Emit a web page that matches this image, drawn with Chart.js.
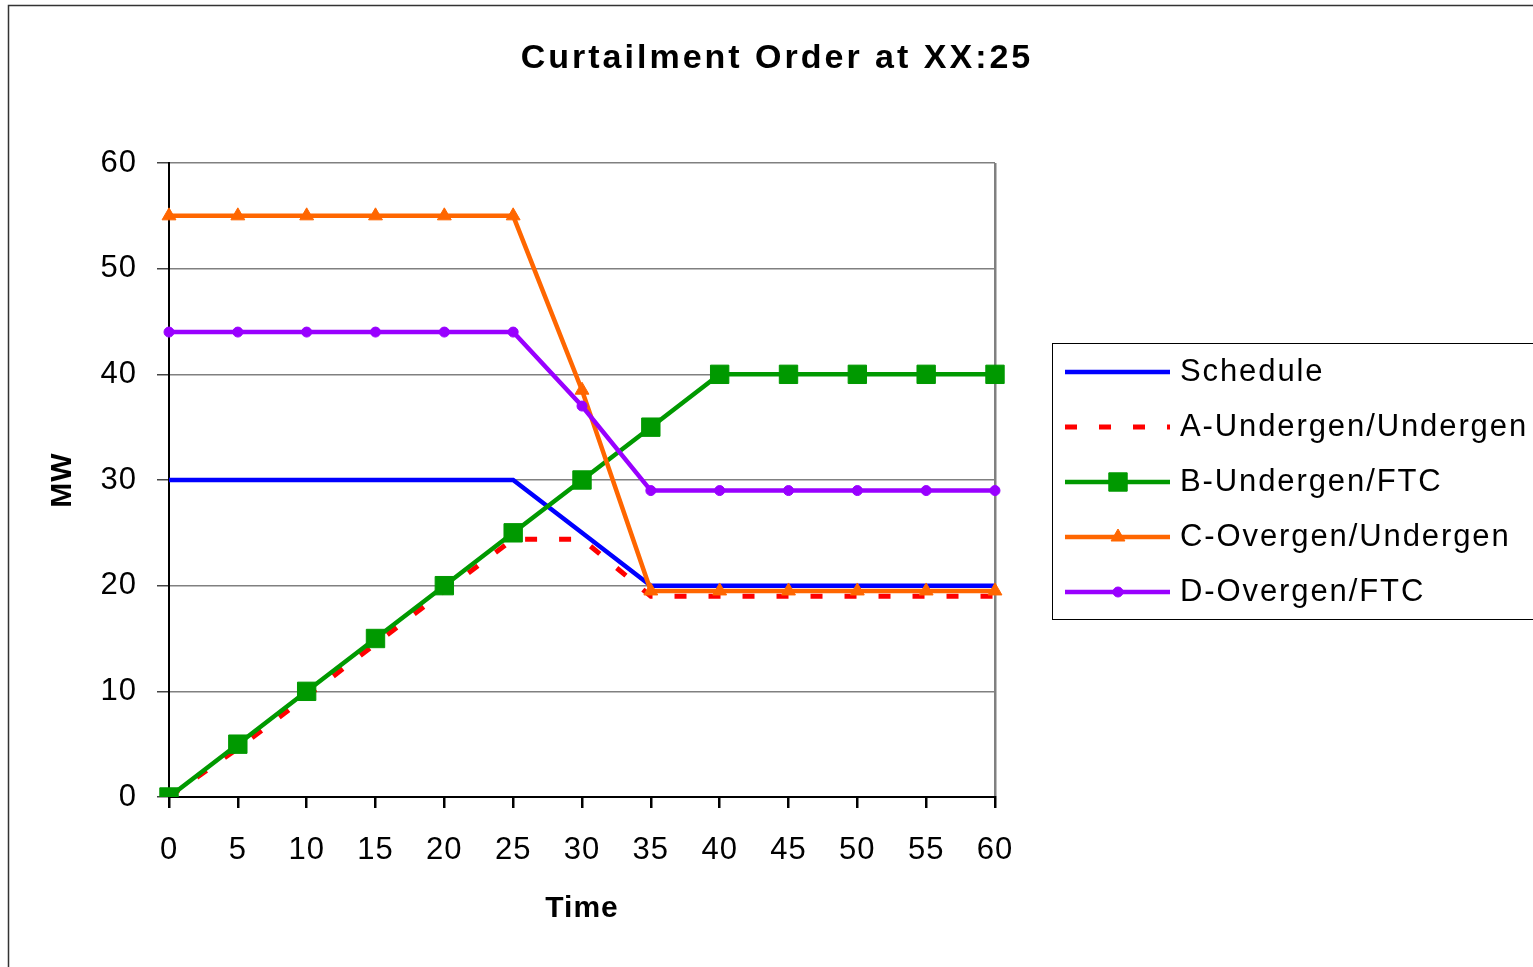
<!DOCTYPE html>
<html>
<head>
<meta charset="utf-8">
<script src="https://cdn.jsdelivr.net/npm/chart.js@4.4.1/dist/chart.umd.min.js"></script>
<style>
  html, body { margin: 0; padding: 0; background: #fff; }
  #wrap { width: 1533px; height: 967px; }
</style>
</head>
<body>
<div id="wrap"><canvas id="curtailment"></canvas></div>
<script>
// data
var timeLabels = ["0", "5", "10", "15", "20", "25", "30", "35", "40", "45", "50", "55", "60"];
var schedule   = [30, 30, 30, 30, 30, 30, 25, 20, 20, 20, 20, 20, 20];
var aUnderUnder = [0, 4.6, 9.5, 14.5, 19.5, 24.4, 24.4, 19, 19, 19, 19, 19, 19];
var bUnderFtc  = [0, 5, 10, 15, 20, 25, 30, 35, 40, 40, 40, 40, 40];
var cOverUnder = [55, 55, 55, 55, 55, 55, 38.5, 19.5, 19.5, 19.5, 19.5, 19.5, 19.5];
var dOverFtc   = [44, 44, 44, 44, 44, 44, 37, 29, 29, 29, 29, 29, 29];

var FONT = "'Liberation Sans', Arial, sans-serif";

// titel, kader en legende zelf tekenen
var decorPlugin = {
    id: "decor",
    beforeLayout: function(chart) {
        chart.ctx.letterSpacing = "1px";
    },
    beforeDraw: function(chart) {
        var c = chart.ctx;
        c.letterSpacing = "1px";
        c.save();
        c.strokeStyle = "#333";
        c.lineWidth = 1.5;
        c.strokeRect(8.5, 5.5, 1700, 1100);
        c.restore();
    },
    afterDraw: function(chart) {
        var c = chart.ctx;
        c.save();
        // title
        c.letterSpacing = "3px";
        c.fillStyle = "#000";
        c.font = "bold 34px " + FONT;
        c.textAlign = "center";
        c.textBaseline = "middle";
        c.fillText("Curtailment Order at XX:25", 777, 59);

        // legend box
        c.strokeStyle = "#000";
        c.lineWidth = 1;
        c.strokeRect(1052.5, 343.5, 700, 276);

        chart.data.datasets.forEach(function(ds, i) {
            var y = 372 + 55 * i;
            c.save();
            c.strokeStyle = ds.borderColor;
            c.lineWidth = ds.borderWidth;
            c.setLineDash(ds.borderDash || []);
            c.beginPath();
            c.moveTo(1065, y);
            c.lineTo(1170, y);
            c.stroke();
            c.restore();
            if (ds.pointRadius > 0) {
                c.fillStyle = ds.borderColor;
                c.strokeStyle = ds.borderColor;
                Chart.helpers.drawPoint(c, {
                    pointStyle: ds.pointStyle,
                    radius: ds.pointRadius,
                    rotation: 0,
                    borderWidth: 1
                }, 1118, y);
            }
            c.letterSpacing = "1.9px";
            c.fillStyle = "#000";
            c.font = "31px " + FONT;
            c.textAlign = "left";
            c.textBaseline = "middle";
            c.fillText(ds.label, 1180, y);
        });
        c.restore();
    }
};

function line(label, values, color, extra) {
    var ds = {
        label: label,
        data: values,
        borderColor: color,
        backgroundColor: color,
        pointBackgroundColor: color,
        pointBorderColor: color,
        borderWidth: 4.5,
        pointBorderWidth: 1,
        pointRadius: 0,
        tension: 0,
        fill: false
    };
    for (var k in extra) ds[k] = extra[k];
    return ds;
}

var ctx = document.getElementById("curtailment");

new Chart(ctx, {
    type: "line",
    data: {
        labels: timeLabels,
        datasets: [
            line("Schedule", schedule, "#0000FF", { order: 5 }),
            line("A-Undergen/Undergen", aUnderUnder, "#FF0000", { order: 4, borderDash: [12, 22], borderWidth: 5 }),
            line("B-Undergen/FTC", bUnderFtc, "#009900", { order: 3, pointStyle: "rect", pointRadius: 13 }),
            line("C-Overgen/Undergen", cOverUnder, "#FF6600", { order: 2, pointStyle: "triangle", pointRadius: 8 }),
            line("D-Overgen/FTC", dOverFtc, "#9900FF", { order: 1, pointStyle: "circle", pointRadius: 5 })
        ]
    },
    options: {
        responsive: true,
        maintainAspectRatio: false,
        animation: false,
        events: [],
        layout: {
            padding: { left: 41, right: 538, top: 163, bottom: 36 }
        },
        plugins: {
            legend: { display: false },
            title: { display: false },
            tooltip: { enabled: false }
        },
        scales: {
            x: {
                type: "category",
                offset: false,
                afterFit: function(scale) { scale.height = 134; },
                border: { color: "#000", width: 2 },
                grid: {
                    color: function(c) { return c.index === timeLabels.length - 1 ? "#808080" : "rgba(0,0,0,0)"; },
                    lineWidth: 2.5,
                    tickColor: "#000",
                    tickLength: 11,
                    drawOnChartArea: true
                },
                ticks: {
                    color: "#000",
                    font: { family: FONT, size: 31 },
                    padding: 24,
                    maxRotation: 0,
                    autoSkip: false
                },
                title: {
                    display: true,
                    text: "Time",
                    color: "#000",
                    font: { family: FONT, size: 30, weight: "bold" }
                }
            },
            y: {
                min: 0,
                max: 60,
                afterFit: function(scale) { scale.width = 128; },
                border: { color: "#000", width: 2 },
                grid: {
                    color: "#808080",
                    lineWidth: 1.5,
                    tickColor: "#444",
                    tickLength: 12
                },
                ticks: {
                    stepSize: 10,
                    color: "#000",
                    font: { family: FONT, size: 31 },
                    padding: 20
                },
                title: {
                    display: true,
                    text: "MW",
                    color: "#000",
                    font: { family: FONT, size: 30, weight: "bold" }
                }
            }
        }
    },
    plugins: [decorPlugin]
});
</script>
</body>
</html>
